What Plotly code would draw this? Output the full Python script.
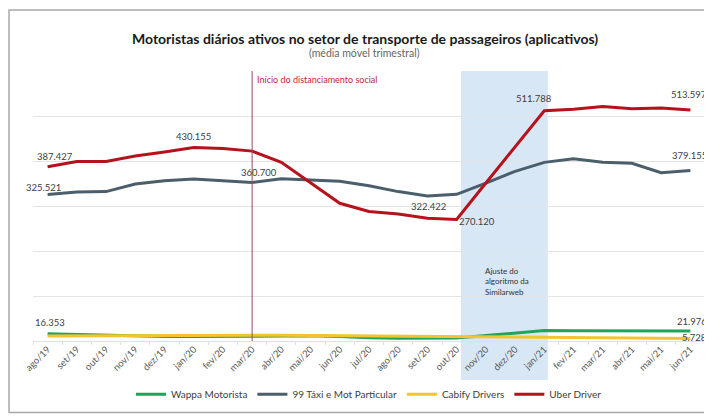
import plotly.graph_objects as go

months = ["ago/19", "set/19", "out/19", "nov/19", "dez/19", "jan/20", "fev/20", "mar/20",
          "abr/20", "mai/20", "jun/20", "jul/20", "ago/20", "set/20", "out/20", "nov/20",
          "dez/20", "jan/21", "fev/21", "mar/21", "abr/21", "mai/21", "jun/21"]

wappa = [16353, 15000, 13000, 11000, 10000, 10000, 10500, 11000, 11000, 11500, 10000, 7000,
         6000, 6000, 6500, 12000, 18000, 23500, 23000, 23000, 23000, 23000, 21976]
taxi99 = [325521, 331000, 332000, 349000, 356000, 360000, 356000, 352000, 360700, 358000,
          355000, 345000, 332000, 322422, 326000, 351000, 377000, 397000, 405000, 397000,
          395000, 374000, 379155]
cabify = [11000, 11500, 12000, 12000, 12000, 12500, 13000, 13000, 13000, 12500, 12000, 11000,
          10500, 10000, 10000, 9500, 9000, 8500, 8000, 7500, 7000, 6500, 5728]
uber = [387427, 399000, 399000, 411000, 420000, 430155, 428000, 422000, 397000, 351000,
        306000, 288000, 282000, 273000, 270120, 351000, 431000, 511788, 515000, 521000,
        516000, 518000, 513597]

series_names = ["Wappa Motorista", "99 Táxi e Mot Particular", "Cabify Drivers", "Uber Driver"]
series_values = [wappa, taxi99, cabify, uber]
series_colors = ["#1FA55A", "#4B5E6B", "#F4C430", "#B5121B"]

# data labels: (series index, month index, text, xanchor, xshift, yshift)
labels = [
    (3, 0, "387.427", "center", 7, 10),
    (1, 0, "325.521", "center", -4, 7),
    (3, 5, "430.155", "center", 0, 11),
    (1, 8, "360.700", "center", -22, 6),
    (1, 13, "322.422", "center", 1, -11),
    (3, 14, "270.120", "center", 20, -2),
    (3, 17, "511.788", "center", -10, 12),
    (3, 22, "513.597", "right", 19, 15),
    (1, 22, "379.155", "right", 19, 15),
    (0, 22, "21.976", "right", 19, 10),
    (2, 22, "5.728", "right", 19, 1),
    (0, 0, "16.353", "center", 2, 11),
]

FONT = "Lato"

fig = go.Figure()
for name, vals, col in zip(series_names, series_values, series_colors):
    fig.add_trace(go.Scatter(x=months, y=vals, mode="lines", name=name,
                             line=dict(color=col, width=3), cliponaxis=False))

for si, mi, txt, xa, xs, ys in labels:
    fig.add_annotation(x=months[mi], y=series_values[si][mi], text=txt, showarrow=False,
                       xanchor=xa, yanchor="middle", xshift=xs, yshift=ys,
                       font=dict(family=FONT, size=9.5, color="#404040"))

# shaded region (algorithm adjustment)
fig.add_shape(type="rect", xref="x", yref="paper", x0=14.15, x1=17.12, y0=-0.15, y1=1.0,
              fillcolor="#D8E7F5", line=dict(width=0), layer="below")
# social distancing line
fig.add_shape(type="line", xref="x", yref="paper", x0=7, x1=7, y0=0, y1=1,
              line=dict(color="#9E4A55", width=1))
# outer frame
fig.add_shape(type="rect", xref="paper", yref="paper", x0=-0.0357, x1=1.03, y0=-0.265, y1=1.2255,
              line=dict(color="#A8A8A8", width=1.5), fillcolor="rgba(0,0,0,0)")

fig.add_annotation(x=7, y=1.0, xref="x", yref="paper", text="Início do distanciamento social",
                   showarrow=False, xanchor="left", yanchor="top", xshift=3, yshift=-1,
                   font=dict(family=FONT, size=9, color="#C0283A"))
fig.add_annotation(x=14.9, y=0.285, xref="x", yref="paper",
                   text="Ajuste do<br>algoritmo da<br>Similarweb", showarrow=False,
                   xanchor="left", yanchor="top", align="left",
                   font=dict(family=FONT, size=8, color="#333333"))

fig.add_annotation(x=0.494, y=1.122, xref="paper", yref="paper",
                   text="<b>Motoristas diários ativos no setor de transporte de passageiros (aplicativos)</b>",
                   showarrow=False, xanchor="center", yanchor="middle",
                   font=dict(family=FONT, size=14, color="#1A1A1A"))
fig.add_annotation(x=0.494, y=1.066, xref="paper", yref="paper",
                   text="(média móvel trimestral)", showarrow=False,
                   xanchor="center", yanchor="middle",
                   font=dict(family=FONT, size=10.5, color="#666666"))

# the page body adds an 8px offset, so the figure is 8px smaller than the window
fig.update_layout(
    width=704, height=408,
    margin=dict(l=25, r=7, t=63, b=74.5),
    paper_bgcolor="white", plot_bgcolor="white",
    font=dict(family=FONT, color="#404040"),
    showlegend=True,
    legend=dict(orientation="h", x=0.5, xanchor="center", y=-0.197, yanchor="middle",
                font=dict(family=FONT, size=10, color="#404040"),
                itemwidth=30, tracegroupgap=0),
)
fig.update_xaxes(type="category", categoryorder="array", categoryarray=months,
                 range=[-0.5, 22.5], tickangle=-45, showgrid=False, showline=False,
                 ticks="outside", tickson="boundaries", ticklen=3, tickcolor="#E0E0E0",
                 tickfont=dict(family=FONT, size=9.5, color="#595959"))
fig.update_yaxes(range=[0, 600000], dtick=100000, showgrid=True, gridcolor="#E4E4E4",
                 gridwidth=1, showticklabels=False, zeroline=True, zerolinecolor="#E0E0E0",
                 zerolinewidth=1, showline=False)

fig.write_html("out.html")
